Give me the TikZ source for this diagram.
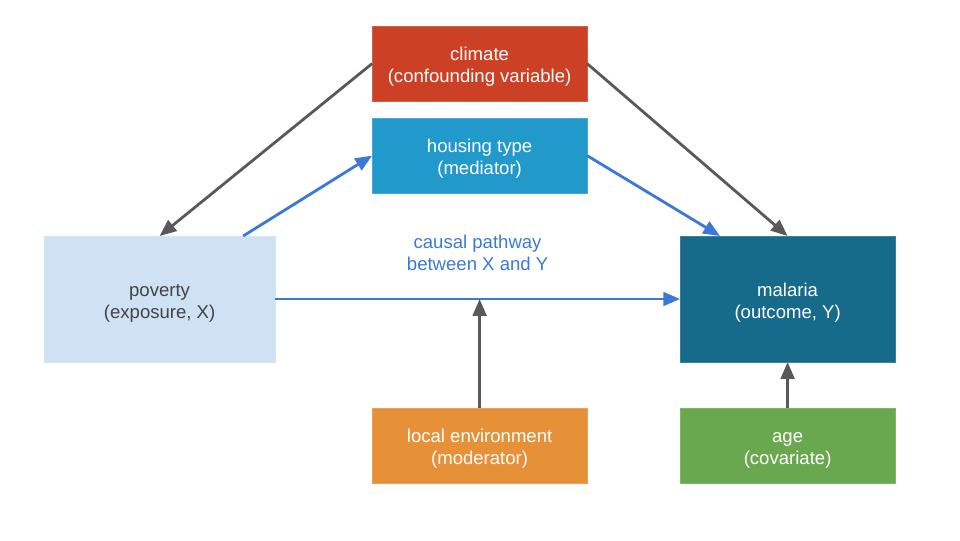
\documentclass[tikz,border=0pt]{standalone}
\usepackage{fontspec}
\setmainfont{Liberation Sans}
\usetikzlibrary{arrows.meta, positioning, calc}
\usepackage{xcolor}

\definecolor{climred}{HTML}{CC4125}
\definecolor{houseblue}{HTML}{2299CB}
\definecolor{povblue}{HTML}{CFE2F3}
\definecolor{malteal}{HTML}{166B8B}
\definecolor{envorange}{HTML}{E69138}
\definecolor{agegreen}{HTML}{6AA84F}
\definecolor{arrgray}{HTML}{595959}
\definecolor{pathblue}{HTML}{3C78D8}
\definecolor{textgray}{HTML}{434343}

% strut on the first line, so text sits a little lower in its box
\newcommand{\boxstrut}{\rule{0pt}{14.5pt}}

\begin{document}
\begin{tikzpicture}[
    box/.style={rectangle, draw=#1!85!white, fill=#1, line width=0.4pt, outer sep=0pt,
        minimum width=5.375cm, minimum height=1.875cm, align=center, text=white,
        font=\fontsize{13.2}{15.6}\selectfont},
    bigbox/.style={box=#1, minimum height=3.15cm},
    arrow/.style={-{Triangle[length=0.42cm, width=0.34cm]}, line width=2pt, arrgray},
    blue arrow/.style={arrow, pathblue}
]
\useasboundingbox (0,0) rectangle (24,13.5);

\node[box=climred] (climate) at (11.99,11.91) {\boxstrut climate\\(confounding variable)};
\node[box=houseblue, below=0.425cm of climate] (housing) {\boxstrut housing type\\(mediator)};
\node[bigbox=povblue, minimum width=5.775cm, text=textgray] (poverty) at (3.99,6.025) {\boxstrut poverty\\(exposure, X)};
\node[bigbox=malteal] (malaria) at (19.69,6.025) {\boxstrut malaria\\(outcome, Y)};
\node[box=agegreen, below=1.15cm of malaria] (age) {\boxstrut age\\(covariate)};
\node[box=envorange, left=2.325cm of age] (localenv) {\boxstrut local environment\\(moderator)};

\draw[arrow] (climate.west) -- (poverty.north);
\draw[arrow] (climate.east) -- (malaria.north);
\draw[blue arrow] (poverty.37.6) -- (housing.west);
\draw[blue arrow] (housing.east) -- (malaria.137);
\draw[blue arrow] (poverty.east) -- node[above=0.55cm, align=center, text=pathblue,
    font=\fontsize{13.2}{15.6}\selectfont] (pathway) {causal pathway\\between X and Y} (malaria.west);
\draw[arrow] (localenv.north) -- (localenv.north |- malaria.west);
\draw[arrow] (age.north) -- (malaria.south);

\end{tikzpicture}
\end{document}
